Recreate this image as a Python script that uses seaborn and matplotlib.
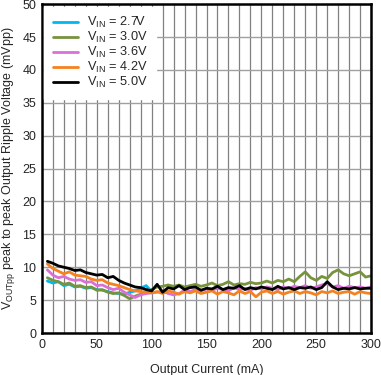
import numpy as np
import pandas as pd
import seaborn as sns
import matplotlib.pyplot as plt

current = list(range(5, 301, 5))

v27 = [7.9, 7.6, 7.8, 7.2, 7.4, 7.0, 7.1, 6.8, 6.9, 6.6, 6.5, 6.3, 6.1, 6.0, 5.9,
       6.2, 6.4, 6.8, 7.2, 6.3]
v30 = [8.4, 8.0, 7.8, 7.4, 7.6, 7.1, 7.2, 6.9, 7.0, 6.5, 6.6, 6.2, 6.0, 6.1, 5.7,
       5.2, 5.6, 5.9, 6.3, 6.6, 7.0, 7.1, 7.3, 7.1, 7.3, 7.0, 7.2, 7.4, 7.1, 7.3,
       7.6, 7.2, 7.4, 7.8, 7.3, 7.5, 7.4, 7.7, 7.5, 7.6, 7.9, 7.6, 8.0, 7.8, 8.2,
       7.8, 8.6, 9.3, 8.4, 8.0, 8.6, 8.3, 9.2, 9.6, 9.0, 8.7, 9.0, 9.3, 8.5, 8.7]
v36 = [9.6, 8.8, 8.4, 8.6, 8.2, 8.0, 8.1, 7.7, 7.8, 7.2, 7.3, 6.9, 6.6, 6.8, 6.2,
       5.8, 5.4, 5.8, 6.0, 6.1, 6.2, 6.4, 6.0, 5.8, 6.0, 6.5, 6.3, 6.6, 6.4, 6.7,
       6.5, 6.8, 6.6, 6.4, 6.9, 6.6, 6.8, 6.5, 6.9, 6.7, 7.0, 6.8, 6.6, 7.0, 6.8,
       7.1, 6.9, 7.2, 6.8, 7.0, 7.3, 7.5, 7.0, 7.2, 6.8, 7.1, 6.9, 7.0, 6.8, 7.0]
v42 = [10.5, 9.8, 9.4, 9.0, 9.3, 8.8, 8.7, 8.6, 8.2, 8.0, 8.1, 7.6, 7.4, 7.2, 6.9,
       6.6, 6.4, 6.3, 6.2, 6.1, 6.3, 6.0, 6.4, 6.2, 5.9, 6.3, 6.1, 6.4, 6.0, 6.2,
       6.4, 5.9, 6.3, 6.1, 5.8, 6.4, 6.0, 6.3, 5.5, 6.2, 6.4, 6.0, 6.3, 5.9, 6.2,
       6.4, 6.0, 6.3, 6.1, 5.8, 6.3, 6.1, 6.4, 6.0, 6.2, 6.3, 5.9, 6.3, 6.1, 6.0]
v50 = [10.9, 10.6, 10.2, 10.0, 9.8, 9.5, 9.6, 9.2, 9.0, 8.8, 8.9, 8.4, 8.6, 8.0, 7.6,
       7.3, 7.0, 6.9, 6.6, 6.4, 7.4, 6.2, 6.9, 6.7, 7.2, 6.6, 6.9, 7.0, 6.5, 6.8,
       6.7, 7.1, 6.6, 6.9, 6.8, 7.2, 6.6, 6.9, 6.7, 7.0, 6.8, 6.6, 7.1, 6.7, 6.9,
       6.6, 6.9, 6.8, 7.0, 6.6, 6.9, 7.8, 7.0, 6.6, 6.8, 6.7, 6.9, 6.7, 6.8, 6.8]

labels = ["V$_{\\mathregular{IN}}$ = 2.7V", "V$_{\\mathregular{IN}}$ = 3.0V",
          "V$_{\\mathregular{IN}}$ = 3.6V", "V$_{\\mathregular{IN}}$ = 4.2V",
          "V$_{\\mathregular{IN}}$ = 5.0V"]
series = [v27, v30, v36, v42, v50]
colors = ["#00B8F0", "#77933C", "#DA70D6", "#F58220", "#000000"]

rows = []
for lab, vals in zip(labels, series):
    for c, v in zip(current, vals):
        rows.append((c, v, lab))
df = pd.DataFrame(rows, columns=["current", "ripple", "vin"])

sns.set_style("white")
plt.rcParams["font.family"] = ["Liberation Sans", "DejaVu Sans"]
plt.rcParams["mathtext.fontset"] = "custom"
plt.rcParams["mathtext.rm"] = "Liberation Sans"
plt.rcParams["mathtext.it"] = "Liberation Sans"

fig = plt.figure(figsize=(3.81, 3.75), dpi=100)
ax = fig.add_axes([0.110, 0.112, 0.864, 0.877])

sns.lineplot(data=df, x="current", y="ripple", hue="vin", palette=colors,
             hue_order=labels, linewidth=2.0, ax=ax)

ax.set_xlim(0, 300)
ax.set_ylim(0, 50)
ax.set_xticks(range(0, 301, 50))
ax.set_yticks(range(0, 51, 5))
ax.set_xticks(range(0, 301, 10), minor=True)
ax.grid(True, which="major", axis="y", color="#A0A0A0", linewidth=1.0)
ax.grid(True, which="both", axis="x", color="#808080", linewidth=0.9)
ax.set_axisbelow(True)
ax.tick_params(axis="both", which="both", length=0, labelsize=9, pad=4)
for s in ax.spines.values():
    s.set_color("black")
    s.set_linewidth(1.8)

ax.set_xlabel("Output Current (mA)", fontsize=9, labelpad=10)
ax.set_ylabel("V$_{\\mathregular{OUTpp}}$ peak to peak Output Ripple Voltage (mVpp)",
              fontsize=9, labelpad=4)

leg = ax.legend(loc="upper left", fontsize=9.2, frameon=True, fancybox=False,
                framealpha=1, edgecolor="white", handlelength=2.0,
                handletextpad=0.7, borderaxespad=0.2, labelspacing=0.0,
                borderpad=0.65)
for line in leg.get_lines():
    line.set_linewidth(2.0)

plt.savefig("out.png", dpi=100)
